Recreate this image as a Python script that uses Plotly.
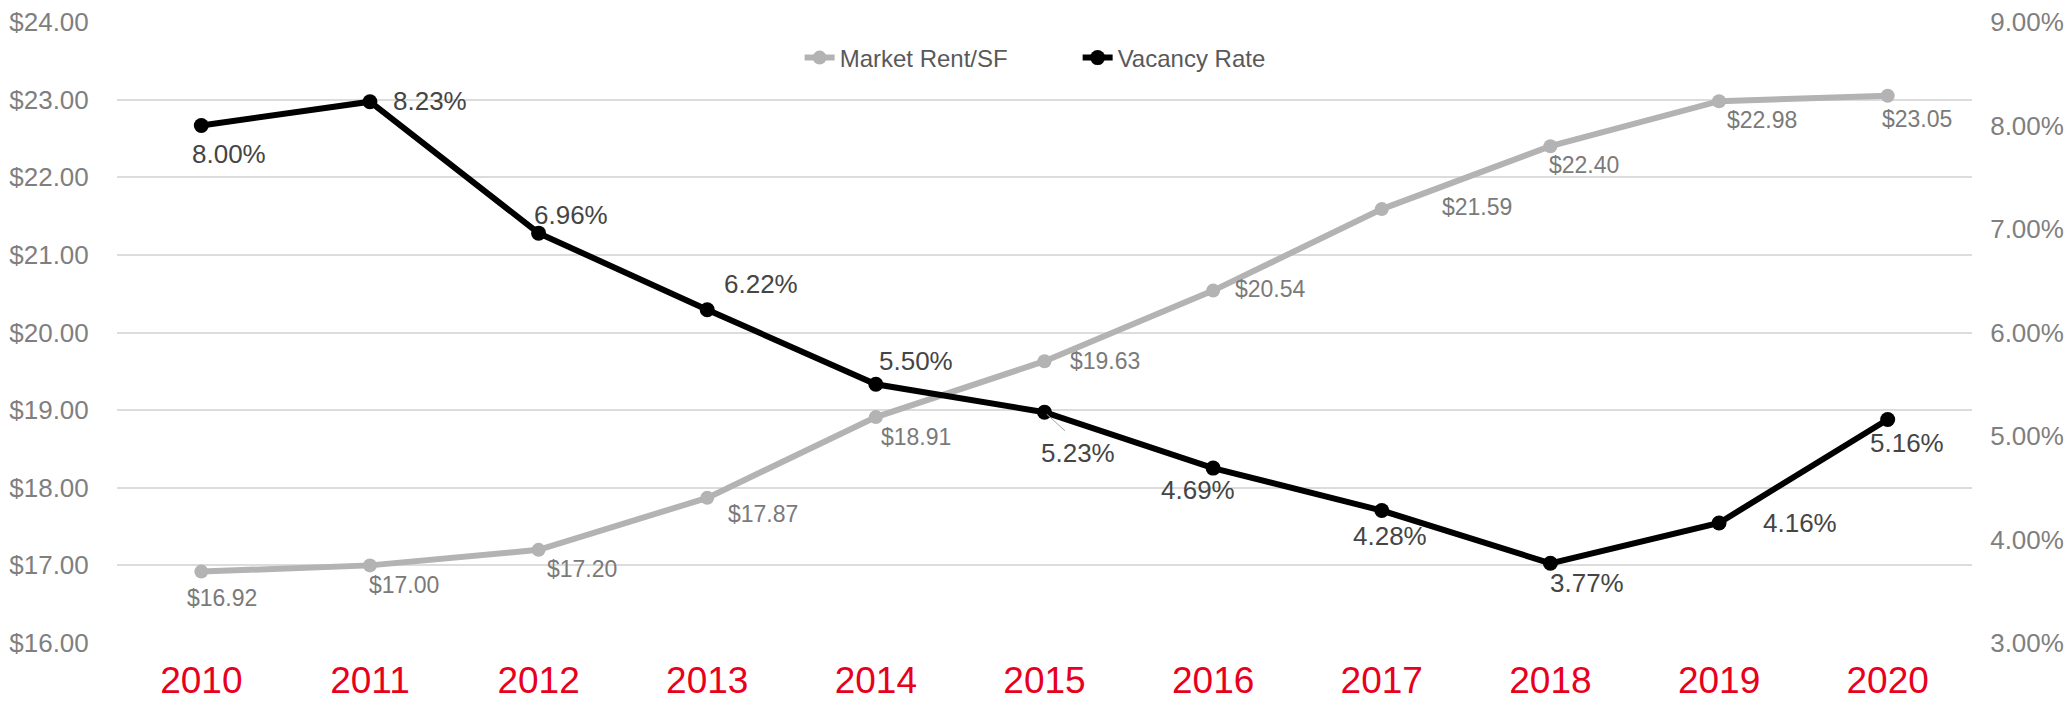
import plotly.graph_objects as go

years = ["2010", "2011", "2012", "2013", "2014", "2015", "2016", "2017", "2018", "2019", "2020"]
market_rent = [16.92, 17.00, 17.20, 17.87, 18.91, 19.63, 20.54, 21.59, 22.40, 22.98, 23.05]
vacancy_rate = [8.00, 8.23, 6.96, 6.22, 5.50, 5.23, 4.69, 4.28, 3.77, 4.16, 5.16]
rent_ticks = [16, 17, 18, 19, 20, 21, 22, 23, 24]
vac_ticks = [3, 4, 5, 6, 7, 8, 9]

# label offsets (pixels) - styling only
rent_off = [(21, -26), (34, -20), (43, -19), (56, -16), (40, -20), (60, 0),
            (57, 2), (95, 2), (34, -19), (43, -19), (29, -23)]
vac_off = [(28, -28), (60, 1), (32, 18), (54, 26), (40, 23), (33, -41),
           (-15, -22), (8, -25), (37, -20), (81, 0), (19, -24)]

FONT = "Liberation Sans"
RENT_C = "#b3b3b3"
VAC_C = "#000000"

fig = go.Figure()
fig.add_trace(go.Scatter(
    x=years, y=market_rent, name="Market Rent/SF", mode="lines+markers",
    line=dict(color=RENT_C, width=6), marker=dict(color=RENT_C, size=14),
    yaxis="y", cliponaxis=False))
fig.add_trace(go.Scatter(
    x=years, y=vacancy_rate, name="Vacancy Rate", mode="lines+markers",
    line=dict(color=VAC_C, width=6), marker=dict(color=VAC_C, size=15),
    yaxis="y2", cliponaxis=False))

for i in range(len(years)):
    fig.add_annotation(x=i, y=market_rent[i], xref="x", yref="y",
                       text="$" + format(market_rent[i], ".2f"),
                       showarrow=False, xshift=rent_off[i][0], yshift=rent_off[i][1],
                       font=dict(family=FONT, size=23, color="#7a7a7a"))
for i in range(len(years)):
    fig.add_annotation(x=i, y=vacancy_rate[i], xref="x", yref="y2",
                       text=format(vacancy_rate[i], ".2f") + "%",
                       showarrow=False, xshift=vac_off[i][0], yshift=vac_off[i][1],
                       font=dict(family=FONT, size=26, color="#454545"))

# thin leader line for the 2015 vacancy label
fig.add_annotation(x=5, y=vacancy_rate[5], xref="x", yref="y2", text="",
                   showarrow=True, arrowhead=0, arrowwidth=1, arrowcolor="#a6a6a6",
                   ax=22, ay=20, axref="pixel", ayref="pixel", standoff=3)

fig.update_layout(
    template="none",
    width=2070, height=705,
    margin=dict(l=117, r=98, t=22, b=62, pad=0),
    paper_bgcolor="white", plot_bgcolor="white",
    font=dict(family=FONT),
    showlegend=True,
    legend=dict(orientation="h", x=0.368, xanchor="left", y=0.942, yanchor="middle",
                entrywidth=233, entrywidthmode="pixels",
                font=dict(family=FONT, size=24, color="#595959"),
                bgcolor="rgba(0,0,0,0)"),
    xaxis=dict(type="category", range=[-0.5, 10.5], showgrid=False, zeroline=False,
               showline=False, ticks="outside", ticklen=5, tickcolor="rgba(0,0,0,0)",
               automargin=False,
               tickfont=dict(family=FONT, size=37, color="#e8001c")),
    yaxis=dict(range=[16, 24], tickmode="array", tickvals=rent_ticks,
               ticktext=["$" + format(v, ".2f") for v in rent_ticks],
               showgrid=True, gridcolor="#dcdcdc", gridwidth=2, zeroline=False,
               showline=False, ticks="outside", ticklen=22, tickcolor="rgba(0,0,0,0)",
               automargin=False,
               tickfont=dict(family=FONT, size=26, color="#7f7f7f")),
    yaxis2=dict(range=[3, 9], tickmode="array", tickvals=vac_ticks,
                ticktext=[format(v, ".2f") + "%" for v in vac_ticks],
                overlaying="y", side="right", showgrid=False, zeroline=False,
                showline=False, ticks="outside", ticklen=12, tickcolor="rgba(0,0,0,0)",
                automargin=False,
                tickfont=dict(family=FONT, size=26, color="#7f7f7f")),
)

fig.write_html("out.html", config={"displayModeBar": False},
               post_script="document.body.style.margin='0px';")
